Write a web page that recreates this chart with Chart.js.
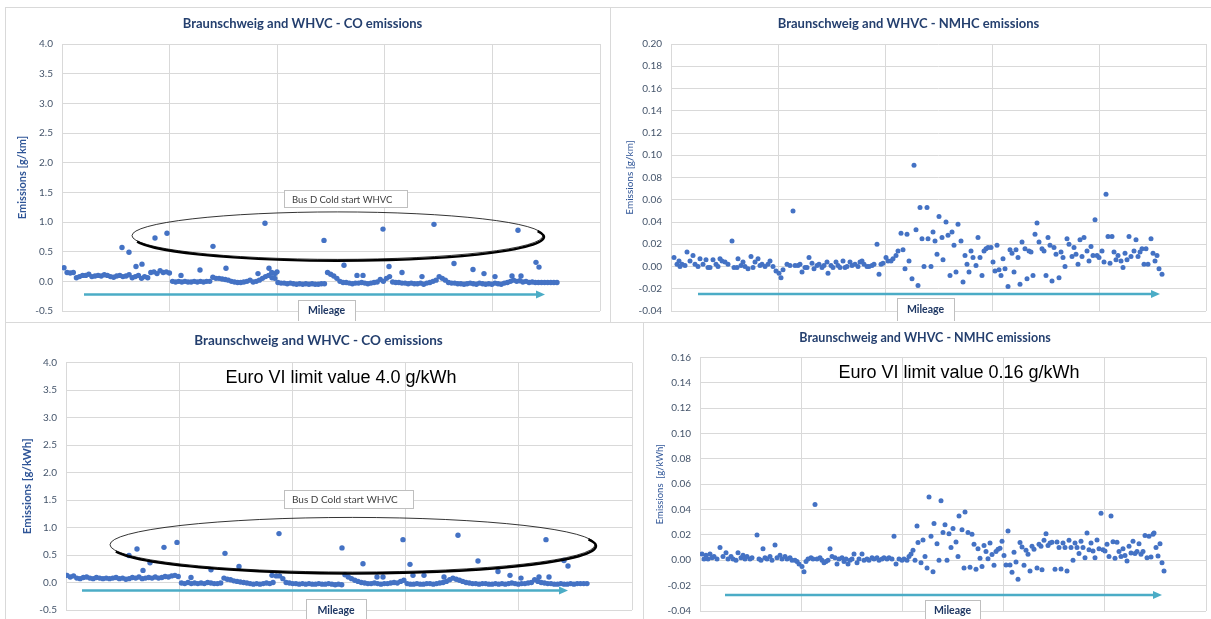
<!DOCTYPE html>
<html>
<head>
<meta charset="utf-8">
<script src="https://cdn.jsdelivr.net/npm/chart.js@4.4.1/dist/chart.umd.min.js"></script>
<style>
    body { margin: 0; background: #fff; width: 1211px; height: 619px; overflow: hidden; position: relative; }
    .frame { position: absolute; border: 1px solid #d9d9d9; box-sizing: border-box; }
    canvas { position: absolute; }
</style>
</head>
<body>
<div class="frame" style="left:5px;top:7px;width:606px;height:316px"></div>
<div class="frame" style="left:610px;top:7px;width:610px;height:316px"></div>
<div class="frame" style="left:5px;top:322px;width:640px;height:310px;border-right:none"></div>
<div class="frame" style="left:643px;top:322px;width:580px;height:310px"></div>

<canvas id="coKm" width="603" height="314" style="left:5px;top:7px"></canvas>
<canvas id="nmhcKm" width="600" height="314" style="left:611px;top:7px"></canvas>
<canvas id="coKwh" width="634" height="297" style="left:5px;top:322px"></canvas>
<canvas id="nmhcKwh" width="567" height="297" style="left:644px;top:322px"></canvas>

<script>
// ---- CO, g/km (top left): dense baseline spread evenly over the mileage, plus single peaks
const coKmRange = [2, 495];
const coKmBase = [
    0.23, 0.15, 0.14,
    0.15, 0.06, 0.08, 0.10, 0.10, 0.12, 0.08, 0.09, 0.10, 0.09, 0.11, 0.10, 0.08, 0.07, 0.09,
    0.10, 0.08, 0.09, 0.11, 0.06, 0.08, 0.10, 0.05, 0.08, 0.06, 0.15, 0.16, 0.13, 0.18, 0.15, 0.16, 0.14,
    0.00, -0.01, 0.00, -0.01, 0.00, -0.01, -0.01, 0.00, -0.01, 0.00, -0.01, 0.00, 0.00,
    0.07, 0.05, 0.05, 0.04,
    0.03, 0.02, 0.00, -0.01, -0.02, -0.02, -0.01, 0.00, 0.02, -0.01,
    0.00, 0.02, 0.05, 0.08, 0.10, 0.15, 0.05,
    -0.02, -0.03, -0.03, -0.04, -0.03, -0.04, -0.05, -0.04, -0.05, -0.04, -0.05, -0.04, -0.05, -0.05, -0.04, -0.04,
    0.15, 0.12, 0.09, 0.05,
    0.00, -0.02, -0.02, -0.03, -0.04, -0.03, -0.03, -0.02, -0.03, -0.04, -0.03, -0.02, -0.01,
    0.03, 0.00, 0.05, 0.08,
    -0.01, -0.02, -0.02, -0.03, -0.03, -0.04, -0.03, -0.04, -0.04, -0.03, -0.05, -0.03,
    -0.02, 0.00, 0.02, 0.08, 0.05,
    0.02, -0.02, -0.03, -0.03, -0.04, -0.04, -0.05, -0.04, -0.03, -0.04, -0.05, -0.03, -0.04, -0.05, -0.04, -0.05, -0.03, -0.04,
    -0.05, -0.03, -0.02, 0.00, 0.02, 0.00,
    0.01, -0.01, 0.00, -0.02, -0.01, -0.02,
    -0.02, -0.02, -0.02, -0.02, -0.02, -0.02, -0.02
];
const coKmPeakX = [60, 67, 74, 80, 93, 105, 119, 138, 151, 164, 196, 203, 207, 210, 213, 215, 262, 282, 295, 301,
    321, 327, 340, 360, 372, 392, 411, 422, 433, 450, 456, 459, 474, 477];
const coKmPeakY = [0.57, 0.49, 0.25, 0.29, 0.73, 0.81, 0.10, 0.19, 0.59, 0.22, 0.13, 0.98, 0.22, 0.06, 0.13, 0.16, 0.69, 0.27, 0.10, 0.10,
    0.88, 0.25, 0.15, 0.08, 0.96, 0.30, 0.20, 0.13, 0.08, 0.09, 0.86, 0.09, 0.32, 0.24];

// ---- NMHC, g/km (top right)
const nmhcKmX = [
    3, 6, 8, 9, 11, 14, 16, 19, 22, 24,
    27, 29, 32, 35, 37, 39, 42, 45, 47, 49,
    51, 54, 57, 61, 63, 66, 67, 70, 72, 74,
    77, 80, 82, 84, 87, 89, 91, 94, 97, 99,
    102, 105, 108, 110, 112, 116, 119, 122, 124, 127,
    129, 131, 134, 136, 138, 141, 143, 146, 148, 151,
    153, 156, 157, 160, 162, 165, 167, 169, 172, 174,
    176, 179, 181, 184, 187, 189, 191, 193, 196, 198,
    201, 203, 206, 208, 210, 212, 215, 217, 220, 222,
    225, 227, 230, 232, 234, 236, 238, 241, 243, 245,
    247, 249, 251, 253, 256, 257, 260, 262, 264, 266,
    268, 271, 272, 275, 277, 279, 281, 283, 285, 287,
    290, 292, 294, 296, 298, 300, 302, 305, 307, 309,
    311, 313, 315, 317, 320, 322, 324, 326, 328, 330,
    332, 334, 337, 339, 341, 343, 345, 347, 349, 351,
    354, 356, 358, 360, 362, 364, 366, 368, 371, 373,
    375, 377, 379, 381, 383, 385, 388, 390, 392, 394,
    396, 398, 401, 403, 405, 407, 409, 411, 413, 416,
    418, 420, 422, 424, 426, 428, 431, 433, 435, 437,
    439, 441, 443, 445, 447, 450, 452, 454, 456, 458,
    460, 463, 465, 467, 469, 471, 473, 475, 477, 480,
    482, 484, 486, 488, 491
];
const nmhcKmY = [
    0.008, 0.002, 0.005, 0.000, 0.002, 0.001, 0.013, 0.005, 0.010, 0.002,
    0.000, 0.007, 0.002, 0.006, -0.001, -0.001, 0.006, 0.002, 0.000, 0.007,
    0.005, 0.004, 0.002, 0.023, -0.001, -0.001, 0.007, 0.001, 0.004, 0.000,
    -0.002, 0.009, -0.001, 0.004, 0.007, 0.001, 0.002, 0.000, 0.002, 0.005,
    0.000, -0.004, -0.006, -0.010, -0.003, 0.002, 0.001, 0.050, 0.001, 0.001,
    0.002, -0.005, -0.001, -0.001, 0.008, 0.003, -0.002, 0.001, 0.002, -0.001,
    0.001, 0.004, -0.006, 0.001, -0.001, 0.004, 0.001, -0.001, 0.005, -0.001,
    0.000, 0.004, 0.001, 0.002, 0.000, 0.004, 0.005, 0.002, 0.000, 0.000,
    0.001, 0.002, 0.020, -0.007, 0.002, 0.003, 0.008, 0.005, 0.005, 0.007,
    0.010, 0.014, 0.030, 0.015, -0.002, 0.029, 0.005, -0.011, 0.091, 0.033,
    -0.017, 0.053, 0.025, 0.000, 0.053, 0.025, 0.000, 0.031, 0.023, 0.011,
    0.045, 0.026, 0.006, 0.040, 0.028, -0.008, 0.031, 0.019, -0.005, 0.038,
    0.023, -0.014, 0.010, 0.002, -0.005, 0.014, 0.008, 0.001, 0.026, 0.008,
    -0.008, 0.014, 0.016, 0.017, 0.017, 0.004, -0.004, 0.019, -0.003, -0.008,
    0.007, -0.002, -0.018, 0.015, 0.012, -0.005, 0.015, 0.008, -0.016, 0.022,
    0.016, -0.011, 0.014, 0.013, -0.008, 0.029, 0.039, 0.022, 0.016, 0.014,
    -0.008, 0.026, 0.019, -0.013, 0.017, 0.011, -0.010, 0.013, 0.008, 0.000,
    0.025, 0.020, 0.009, 0.017, 0.011, 0.002, 0.024, 0.009, 0.026, 0.014,
    0.005, 0.018, 0.010, 0.042, 0.010, 0.008, 0.014, 0.004, 0.065, 0.027,
    0.003, 0.027, 0.013, 0.006, 0.010, 0.005, -0.001, 0.012, 0.006, 0.027,
    0.009, 0.014, 0.024, 0.009, 0.013, 0.016, 0.002, 0.016, 0.002, 0.025,
    0.012, 0.005, 0.010, -0.002, -0.007
];

// ---- CO, g/kWh (bottom left)
const coKwhRange = [1, 521];
const coKwhBase = [
    0.13, 0.10, 0.12, 0.08, 0.07, 0.09, 0.10, 0.08, 0.07, 0.09, 0.08, 0.07,
    0.08, 0.07, 0.08, 0.09, 0.07, 0.08, 0.06, 0.07, 0.09, 0.08, 0.10,
    0.07, 0.08, 0.09, 0.08, 0.10, 0.08, 0.09, 0.11, 0.10, 0.12, 0.13, 0.11,
    -0.01, -0.02, 0.00, -0.02, -0.01, -0.02, -0.01,
    -0.02, 0.00, -0.01, -0.02, -0.02, -0.01,
    0.08, 0.06, 0.05, 0.03, 0.02, 0.01, 0.00,
    -0.01, -0.02, -0.03, -0.02, -0.03, -0.02, -0.01, -0.02, 0.00,
    0.12, 0.12, 0.07,
    0.00, -0.01, -0.02, -0.02, -0.03, -0.02, -0.03, -0.02, -0.03,
    -0.03, -0.02, -0.03, -0.03, -0.02, -0.03, -0.04, -0.03, -0.04,
    0.14, 0.10, 0.07, 0.04,
    0.02, 0.00, -0.01, -0.02, -0.02, -0.01, -0.02, -0.03, -0.02, -0.02, -0.01, 0.00, -0.01, 0.02, 0.04,
    -0.02, -0.03, -0.03, -0.02, -0.03, -0.03, -0.02, -0.02, -0.03, -0.02, -0.01,
    0.00, 0.02, 0.05, 0.08, 0.06,
    0.04, 0.02, 0.00, -0.01, -0.02, -0.02, -0.03, -0.02, -0.02, -0.03, -0.03, -0.02, -0.03, -0.02, -0.03, -0.02, -0.01, -0.02, -0.03, -0.02, -0.02,
    -0.01, 0.00, 0.05, 0.02, 0.00, -0.01, -0.02,
    -0.02, -0.03, -0.03, -0.02, -0.03, -0.03, -0.02, -0.03, -0.02, -0.02, -0.02, -0.02
];
const coKwhPeakX = [63, 71, 77, 84, 98, 111, 125, 145, 159, 173, 206, 213, 276, 297, 311, 317, 337, 344, 347, 358,
    378, 392, 412, 432, 444, 455, 473, 480, 483, 498, 502];
const coKwhPeakY = [0.49, 0.61, 0.22, 0.36, 0.64, 0.73, 0.09, 0.23, 0.53, 0.29, 0.13, 0.89, 0.63, 0.34, 0.10, 0.10, 0.78, 0.33, 0.13, 0.13,
    0.10, 0.86, 0.39, 0.20, 0.13, 0.08, 0.10, 0.78, 0.10, 0.40, 0.30];

// ---- NMHC, g/kWh (bottom right)
const nmhcKwhX = [
    2, 4, 6, 8, 10, 12, 14, 17, 20, 23,
    26, 28, 31, 33, 36, 38, 41, 43, 45, 47,
    50, 52, 57, 59, 61, 63, 65, 67, 70, 72,
    75, 77, 80, 82, 85, 87, 90, 92, 95, 97,
    99, 102, 104, 106, 108, 111, 113, 115, 117, 120,
    122, 124, 126, 128, 130, 132, 135, 137, 139, 142,
    144, 146, 148, 150, 152, 154, 157, 159, 162, 164,
    167, 169, 172, 174, 177, 179, 182, 184, 187, 189,
    192, 194, 196, 199, 202, 204, 207, 209, 211, 213,
    215, 217, 218, 221, 223, 225, 227, 229, 231, 233,
    234, 237, 239, 241, 243, 245, 247, 249, 251, 253,
    256, 258, 259, 262, 264, 265, 268, 270, 272, 274,
    276, 278, 280, 282, 284, 286, 288, 290, 292, 294,
    296, 298, 300, 302, 304, 306, 308, 310, 312, 314,
    316, 318, 320, 322, 324, 326, 328, 330, 332, 334,
    337, 339, 341, 342, 344, 346, 348, 350, 352, 355,
    357, 359, 361, 363, 365, 367, 369, 371, 373, 375,
    377, 379, 381, 383, 385, 387, 389, 391, 393, 395,
    397, 399, 401, 403, 405, 407, 409, 411, 413, 415,
    417, 419, 421, 423, 425, 427, 429, 431, 433, 435,
    437, 439, 441, 443, 445, 447, 449, 451, 453, 454,
    456, 458, 460, 462, 464
];
const nmhcKwhY = [
    0.005, 0.001, 0.004, 0.001, 0.005, 0.002, 0.003, 0.001, 0.010, 0.003,
    0.006, 0.001, 0.003, 0.001, 0.000, 0.006, 0.002, 0.004, 0.001, 0.003,
    0.001, 0.002, 0.020, 0.001, 0.000, 0.009, 0.002, 0.001, 0.003, 0.000,
    0.012, 0.002, 0.004, 0.001, 0.003, 0.001, 0.002, 0.000, 0.000, -0.001,
    -0.003, -0.005, -0.009, -0.001, 0.001, 0.002, 0.001, 0.044, 0.001, 0.002,
    0.000, -0.002, -0.001, 0.000, 0.009, 0.003, 0.002, -0.003, 0.001, 0.002,
    -0.001, 0.001, -0.003, 0.000, 0.001, 0.005, -0.002, 0.001, 0.005, 0.000,
    0.001, 0.000, 0.002, 0.001, 0.002, 0.000, 0.001, 0.002, 0.001, 0.002,
    0.001, 0.019, -0.003, 0.001, 0.000, 0.001, 0.000, 0.003, 0.005, 0.008,
    0.000, 0.027, 0.014, -0.002, 0.016, 0.003, -0.006, 0.050, 0.019, -0.009,
    0.029, 0.013, 0.000, 0.047, 0.022, 0.028, 0.000, 0.021, 0.010, 0.025,
    0.0145, 0.003, 0.035, 0.024, -0.006, 0.038, 0.022, -0.0055, 0.0205, 0.0126,
    -0.007, 0.009, 0.0016, -0.005, 0.0116, 0.007, 0.0013, 0.0137, 0.0045, -0.004,
    0.007, 0.0087, 0.0095, 0.015, 0.0037, -0.0037, 0.023, -0.0037, -0.0095, 0.0063,
    -0.0013, -0.015, 0.014, 0.0105, -0.004, 0.008, 0.0047, -0.0084, 0.011, 0.0087,
    -0.006, 0.0126, 0.011, -0.0074, 0.0158, 0.021, 0.0116, 0.0137, 0.0142, -0.007,
    0.0145, 0.010, -0.0068, 0.0137, 0.010, -0.0084, 0.0158, 0.010, 0.000, 0.0137,
    0.010, 0.0053, 0.015, 0.010, 0.002, 0.0216, 0.0084, 0.0137, 0.0074, 0.002,
    0.016, 0.009, 0.037, 0.0084, 0.0074, 0.0126, 0.003, 0.035, 0.0147, 0.0016,
    0.0142, 0.007, 0.003, 0.009, 0.0037, -0.0005, 0.011, 0.0058, 0.015, 0.0053,
    0.007, 0.013, 0.0047, 0.007, 0.0195, 0.002, 0.019, 0.0026, 0.0205, 0.0216,
    0.010, 0.0034, 0.013, -0.002, -0.0084
];

const BLUE = '#4472C4';
const GRID = '#d9d9d9';
const TITLE_COLOR = '#243f6e';
const AXIS_COLOR = '#2f5597';
const TICK_COLOR = '#44546a';

function spread(values, range) {
    const step = (range[1] - range[0]) / (values.length - 1);
    return values.map((v, i) => ({ x: range[0] + i * step, y: v }));
}

function pairs(xs, ys) {
    return xs.map((x, i) => ({ x: x, y: ys[i] }));
}

// Draws the extra shapes: cold start ellipse, mileage arrow, text boxes, limit note
const decorPlugin = {
    id: 'decor',
    afterDatasetsDraw(chart, args, opts) {
        const ctx = chart.ctx;
        const xs = chart.scales.x, ys = chart.scales.y;
        const px = v => xs.getPixelForValue(v);
        const py = v => ys.getPixelForValue(v);
        ctx.save();

        if (opts.ellipse) {
            const e = opts.ellipse;
            const cx = px(e.cx), cy = py(e.cy);
            const rx = px(e.cx + e.rx) - cx, ry = cy - py(e.cy + e.ry);
            ctx.strokeStyle = '#000';
            ctx.lineWidth = 0.8;
            ctx.beginPath();
            ctx.ellipse(cx, cy, rx, ry, 0, 0, Math.PI * 2);
            ctx.stroke();
            // heavier lower edge (shadow look)
            ctx.lineWidth = 2.4;
            ctx.beginPath();
            ctx.ellipse(cx + 1, cy + 1.3, rx, ry, 0, -0.25, Math.PI - 0.2);
            ctx.stroke();
        }

        if (opts.arrow) {
            const a = opts.arrow;
            const x0 = px(a.x0), x1 = px(a.x1), y = py(a.y);
            ctx.strokeStyle = '#4bacc6';
            ctx.fillStyle = '#4bacc6';
            ctx.lineWidth = 2.5;
            ctx.beginPath();
            ctx.moveTo(x0, y);
            ctx.lineTo(x1 - 6, y);
            ctx.stroke();
            ctx.beginPath();
            ctx.moveTo(x1, y);
            ctx.lineTo(x1 - 9, y - 4);
            ctx.lineTo(x1 - 9, y + 4);
            ctx.closePath();
            ctx.fill();
        }

        (opts.boxes || []).forEach(b => {
            const l = Math.round(px(b.x0)), r = Math.round(px(b.x1));
            const t = Math.round(py(b.y0)), btm = Math.round(py(b.y1));
            ctx.fillStyle = '#fff';
            ctx.fillRect(l, t, r - l, btm - t);
            ctx.strokeStyle = '#bfbfbf';
            ctx.lineWidth = 1;
            ctx.strokeRect(l + 0.5, t + 0.5, r - l, btm - t);
            ctx.font = b.font;
            ctx.fillStyle = b.color;
            ctx.textBaseline = 'middle';
            if (b.center) {
                ctx.textAlign = 'center';
                ctx.fillText(b.text, (l + r) / 2, b.textY !== undefined ? py(b.textY) : (t + btm) / 2);
            } else {
                ctx.textAlign = 'left';
                ctx.fillText(b.text, l + 8, (t + btm) / 2 + 1);
            }
        });

        if (opts.limit) {
            ctx.font = '18px "Liberation Sans", Arial, sans-serif';
            ctx.fillStyle = '#000';
            ctx.textAlign = 'center';
            ctx.textBaseline = 'middle';
            ctx.fillText(opts.limit.text, px(opts.limit.x), py(opts.limit.y));
        }
        ctx.restore();
    }
};

function emissionChart(id, o) {
    return new Chart(document.getElementById(id), {
        type: 'scatter',
        data: {
            datasets: o.series.map(d => ({
                data: d,
                pointRadius: o.radius,
                pointHoverRadius: o.radius,
                backgroundColor: BLUE,
                borderColor: BLUE,
                borderWidth: 0
            }))
        },
        options: {
            responsive: false,
            animation: false,
            events: [],
            layout: { padding: o.pad },
            plugins: {
                legend: { display: false },
                tooltip: { enabled: false },
                title: {
                    display: true,
                    text: o.title,
                    color: TITLE_COLOR,
                    font: { family: 'Lato', size: o.titleSize, weight: 'bold' },
                    padding: { top: o.titlePad[0], bottom: o.titlePad[1] }
                },
                decor: o.decor
            },
            scales: {
                x: {
                    type: 'linear',
                    min: 0,
                    max: o.xMax,
                    ticks: { display: false, stepSize: o.xMax / 5 },
                    grid: { color: GRID, drawTicks: false },
                    border: { display: false },
                    afterFit: s => { s.height = 0; }
                },
                y: {
                    min: o.yMin,
                    max: o.yMax,
                    ticks: {
                        stepSize: o.yStep,
                        padding: 9,
                        color: TICK_COLOR,
                        font: { family: 'Lato', size: 10 },
                        callback: v => v.toFixed(o.decimals)
                    },
                    grid: { color: GRID, drawTicks: false },
                    border: { display: false },
                    title: {
                        display: true,
                        text: o.yTitle,
                        color: AXIS_COLOR,
                        font: o.yFont,
                        padding: { top: o.yTitlePad, bottom: 0 }
                    },
                    afterFit: s => {
                        s.width = o.yWidth;
                        // let the layout padding alone decide the plot's vertical extent
                        s.paddingTop = 0;
                        s.paddingBottom = 0;
                    }
                }
            }
        },
        plugins: [decorPlugin]
    });
}

const boxFont = '9.5px Lato';
const mileFont = 'bold 10.5px Lato';

emissionChart('coKm', {
    series: [spread(coKmBase, coKmRange), pairs(coKmPeakX, coKmPeakY)],
    radius: 2.7,
    pad: { left: 0, right: 8, top: 0, bottom: 10 },
    title: 'Braunschweig and WHVC - CO emissions',
    titleSize: 13, titlePad: [9.2, 12.2],
    xMax: 538, yMin: -0.5, yMax: 4, yStep: 0.5, decimals: 1,
    yTitle: 'Emissions [g/km]', yFont: { family: 'Lato', size: 11, weight: 'bold' }, yTitlePad: 10.4, yWidth: 57,
    decor: {
        ellipse: { cx: 275.5, cy: 0.77, rx: 205.5, ry: 0.40 },
        arrow: { x0: 22, x1: 483, y: -0.22 },
        boxes: [
            { x0: 222, x1: 345, y0: 1.535, y1: 1.25, text: 'Bus D Cold start WHVC', font: boxFont, color: '#404040' },
            { x0: 236, x1: 293, y0: -0.32, y1: -0.675, text: 'Mileage', font: mileFont, color: '#1f3864', center: true, textY: -0.5 }
        ]
    }
});

emissionChart('nmhcKm', {
    series: [pairs(nmhcKmX, nmhcKmY)],
    radius: 2.5,
    pad: { left: 0, right: 5, top: 0, bottom: 10 },
    title: 'Braunschweig and WHVC - NMHC emissions',
    titleSize: 13, titlePad: [9.2, 12.2],
    xMax: 535, yMin: -0.04, yMax: 0.2, yStep: 0.02, decimals: 2,
    yTitle: 'Emissions [g/km]', yFont: { family: 'Lato', size: 10 }, yTitlePad: 13, yWidth: 60,
    decor: {
        arrow: { x0: 27, x1: 489, y: -0.0247 },
        boxes: [
            { x0: 226, x1: 283, y0: -0.0283, y1: -0.049, text: 'Mileage', font: mileFont, color: '#1f3864', center: true, textY: -0.0387 }
        ]
    }
});

emissionChart('coKwh', {
    series: [spread(coKwhBase, coKwhRange), pairs(coKwhPeakX, coKwhPeakY)],
    radius: 2.7,
    pad: { left: 0, right: 7, top: 0, bottom: 9 },
    title: 'Braunschweig and WHVC - CO emissions',
    titleSize: 13.5, titlePad: [10.2, 14.2],
    xMax: 566, yMin: -0.5, yMax: 4, yStep: 0.5, decimals: 1,
    yTitle: 'Emissions [g/kWh]', yFont: { family: 'Lato', size: 11.5, weight: 'bold' }, yTitlePad: 15, yWidth: 61,
    decor: {
        limit: { text: 'Euro VI limit value 4.0 g/kWh', x: 275, y: 3.725 },
        ellipse: { cx: 286.5, cy: 0.687, rx: 242.5, ry: 0.497 },
        arrow: { x0: 16, x1: 502, y: -0.145 },
        boxes: [
            { x0: 218, x1: 347, y0: 1.68, y1: 1.356, text: 'Bus D Cold start WHVC', font: '10px Lato', color: '#404040' },
            { x0: 240, x1: 300, y0: -0.307, y1: -0.705, text: 'Mileage', font: mileFont, color: '#1f3864', center: true, textY: -0.52 }
        ]
    }
});

emissionChart('nmhcKwh', {
    series: [pairs(nmhcKwhX, nmhcKwhY)],
    radius: 2.5,
    pad: { left: 0, right: 5, top: 0, bottom: 8 },
    title: 'Braunschweig and WHVC - NMHC emissions',
    titleSize: 12.5, titlePad: [8.2, 12.2],
    xMax: 506, yMin: -0.04, yMax: 0.16, yStep: 0.02, decimals: 2,
    yTitle: 'Emissions  [g/kWh]', yFont: { family: 'Lato', size: 9.5 }, yTitlePad: 10.3, yWidth: 56,
    decor: {
        limit: { text: 'Euro VI limit value 0.16 g/kWh', x: 259, y: 0.148 },
        arrow: { x0: 25, x1: 462, y: -0.0274 },
        boxes: [
            { x0: 225, x1: 280, y0: -0.0314, y1: -0.0487, text: 'Mileage', font: mileFont, color: '#1f3864', center: true, textY: -0.0395 }
        ]
    }
});
</script>
</body>
</html>
